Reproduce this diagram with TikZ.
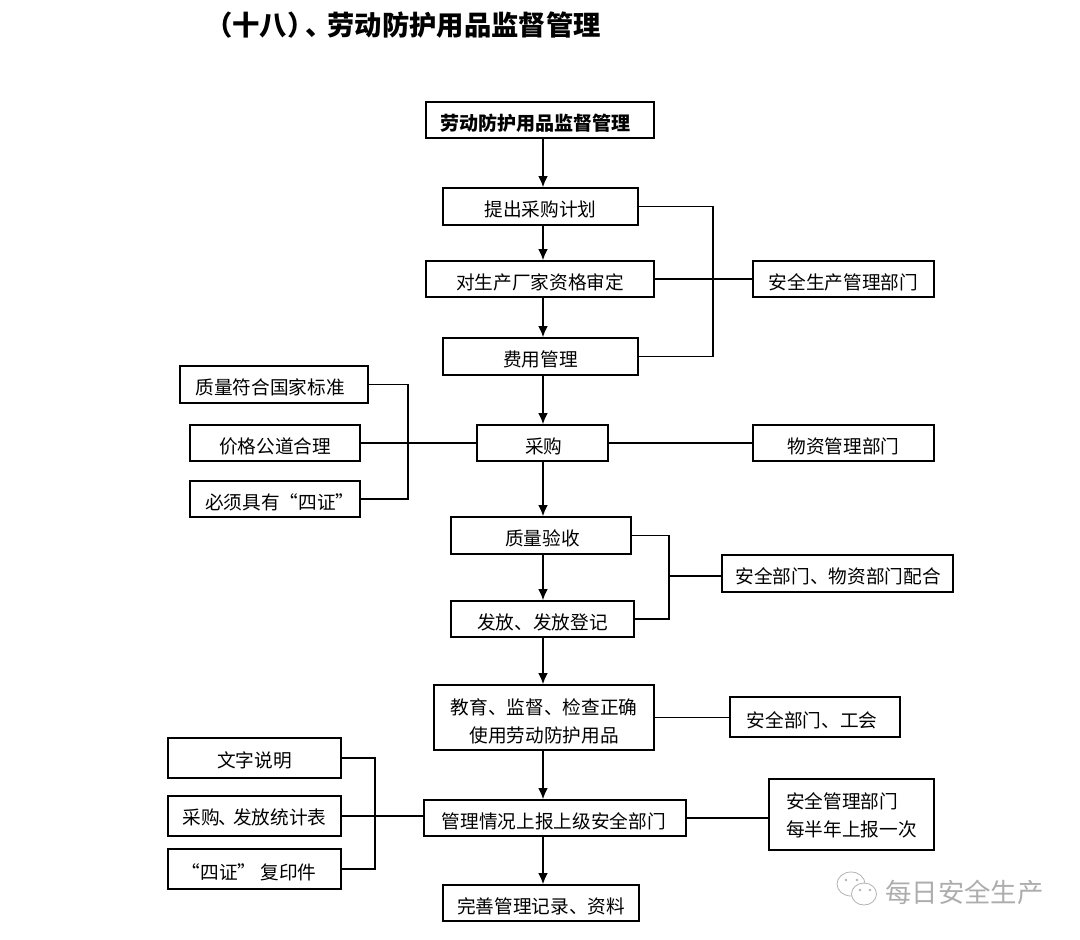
\documentclass[tikz,border=0pt]{standalone}
\usepackage{fontspec}
\setmainfont{Noto Sans CJK SC}
\usetikzlibrary{arrows.meta,calc,positioning}
\tikzset{box/.style={
            draw,
            line width=1pt,
            inner sep=0pt,
            font=\fontsize{14}{21}\selectfont,
            text height=16.8pt,
            text depth=1.7pt,
            align=center
        },
        twolines/.style={
            text height=,
            text depth=
        },
        flow/.style={
            -{Latex[length=8.5pt,width=7.5pt]},
            line width=1.5pt
        },
        link/.style={
            line width=1pt
        },
        title/.style={
            anchor=west,
            inner sep=0pt,
            font=\fontsize{20.5}{24}\selectfont\bfseries
        },
        mark text/.style={
            anchor=west,
            inner sep=0pt,
            text=black!32,
            font=\fontsize{19.8}{24}\selectfont
        },
        mark icon/.style={
            draw=black!30,
            fill=white,
            line width=0.6pt
        }
    }

\begin{document}
\begin{tikzpicture}[x=0.75pt,y=0.75pt]
        \useasboundingbox (0,0) rectangle (1080,-939);

        \node[title] (heading) at (205,-25) {（十八）\kern-6.5pt、\kern-4.25pt 劳动防护用品监督管理};

        % main column
        \node[box,font=\fontsize{14.3}{21}\selectfont\bfseries,minimum width=171pt,minimum height=27pt] (top) at (540,-120) {\hspace*{-7pt}劳动防护用品监督管理};
        \node[box,minimum width=146.25pt,minimum height=27.75pt] (plan) at (540.5,-206.5) {提出采购计划};
        \node[box,minimum width=171pt,minimum height=27pt] (review) at (540,-279) {对生产厂家资格审定};
        \node[box,minimum width=146.25pt,minimum height=27.75pt] (cost) at (540.5,-356.5) {费用管理};
        \node[box,minimum width=98.25pt,minimum height=27pt] (buy) at (542.5,-443) {\hspace*{2pt}采购};
        \node[box,minimum width=135pt,minimum height=27.75pt] (accept) at (541,-535.5) {\hspace*{2pt}质量验收};
        \node[box,minimum width=137.25pt,minimum height=27pt] (issue) at (542.5,-619) {发放、发放登记};
        \node[box,twolines,minimum width=165pt,minimum height=48.75pt] (teach) at (544,-717.5) {\rule{0pt}{17pt}教育、监督、检查正确\\使用劳动防护用品};
        \node[box,minimum width=196.5pt,minimum height=27pt] (report) at (555,-818) {\hspace*{-2pt}管理情况上报上级安全部门};
        \node[box,minimum width=147pt,minimum height=27pt] (record) at (541,-903) {完善管理记录、资料};

        % right column
        \node[box,minimum width=135.75pt,minimum height=27pt] (safety) at (843.5,-279) {安全生产管理部门};
        \node[box,minimum width=135.75pt,minimum height=27pt] (material) at (843.5,-443) {物资管理部门};
        \node[box,minimum width=173.25pt,minimum height=27.75pt] (both) at (837.5,-573.5) {\hspace*{1pt}安全部门、物资部门配合};
        \node[box,minimum width=127.5pt,minimum height=30pt] (union) at (815,-717) {\hspace*{-4.5pt}安全部门、工会};
        \node[box,twolines,align=left,minimum width=123.75pt,minimum height=53.25pt] (half) at (851.5,-814.5) {\rule{0pt}{13pt}安全管理部门\\每半年上报一次};

        % left column
        \node[box,minimum width=141pt,minimum height=27.75pt] (standard) at (274,-384.5) {\hspace*{-6pt}质量符合国家标准};
        \node[box,minimum width=127.5pt,minimum height=27pt] (price) at (275,-443) {价格公道合理};
        \node[box,minimum width=127.5pt,minimum height=27pt] (cert) at (275,-499) {\hspace*{7pt}必须具有“四证”};
        \node[box,text height=15.3pt,minimum width=129.75pt,minimum height=30pt] (words) at (254.5,-758) {文字说明};
        \node[box,text height=14.8pt,minimum width=129.75pt,minimum height=30pt] (stats) at (254.5,-816) {采购\kern-1pt、\kern-3pt 发放统计表};
        \node[box,minimum width=129.75pt,minimum height=30pt] (copies) at (254.5,-869) {\hspace*{-8pt}“四证”\kern3pt 复印件};

        % free points of the connectors
        \coordinate (trunk) at (543,0);
        \coordinate (spineA) at (713,-279);
        \coordinate (spineB) at (408,-443);
        \coordinate (spineC) at (669,-576);
        \coordinate (spineD) at (375,-817);

        \foreach \from/\to in {top/plan,plan/review,review/cost,cost/buy,buy/accept,accept/issue,issue/teach,teach/report,report/record}
            \draw[flow] (\from.south -| trunk) -- (\to.north -| trunk);

        \draw[link] (plan.east) -| (spineA) |- (cost.east);
        \draw[link] (review.east) -- (safety.west);
        \draw[link] (standard.east) -| (spineB) |- (cert.east);
        \draw[link] (price.east) -- (buy.west);
        \draw[link] (buy.east) -- (material.west);
        \draw[link] (accept.east) -| (spineC) |- (issue.east);
        \draw[link] (spineC) -- (spineC -| both.west);
        \draw[link] (teach.east) -- (teach.east -| union.west);
        \draw[link] (words.east) -| (spineD) |- (copies.east);
        \draw[link] (stats.east) -- (stats.east -| report.west);
        \draw[link] (report.east) -- (report.east -| half.west);

        % watermark
        \draw[mark icon] (851,-884) ellipse (14 and 12);
        \draw[mark icon] (864,-894) ellipse (12.5 and 11);
        \foreach \px/\py in {846/-880,857/-880,860/-890,870/-890}
            \fill[black!30] (\px,\py) circle (1.3);
        \node[mark text] (channel) at (885,-892) {每日安全生产};
    \end{tikzpicture}
\end{document}
